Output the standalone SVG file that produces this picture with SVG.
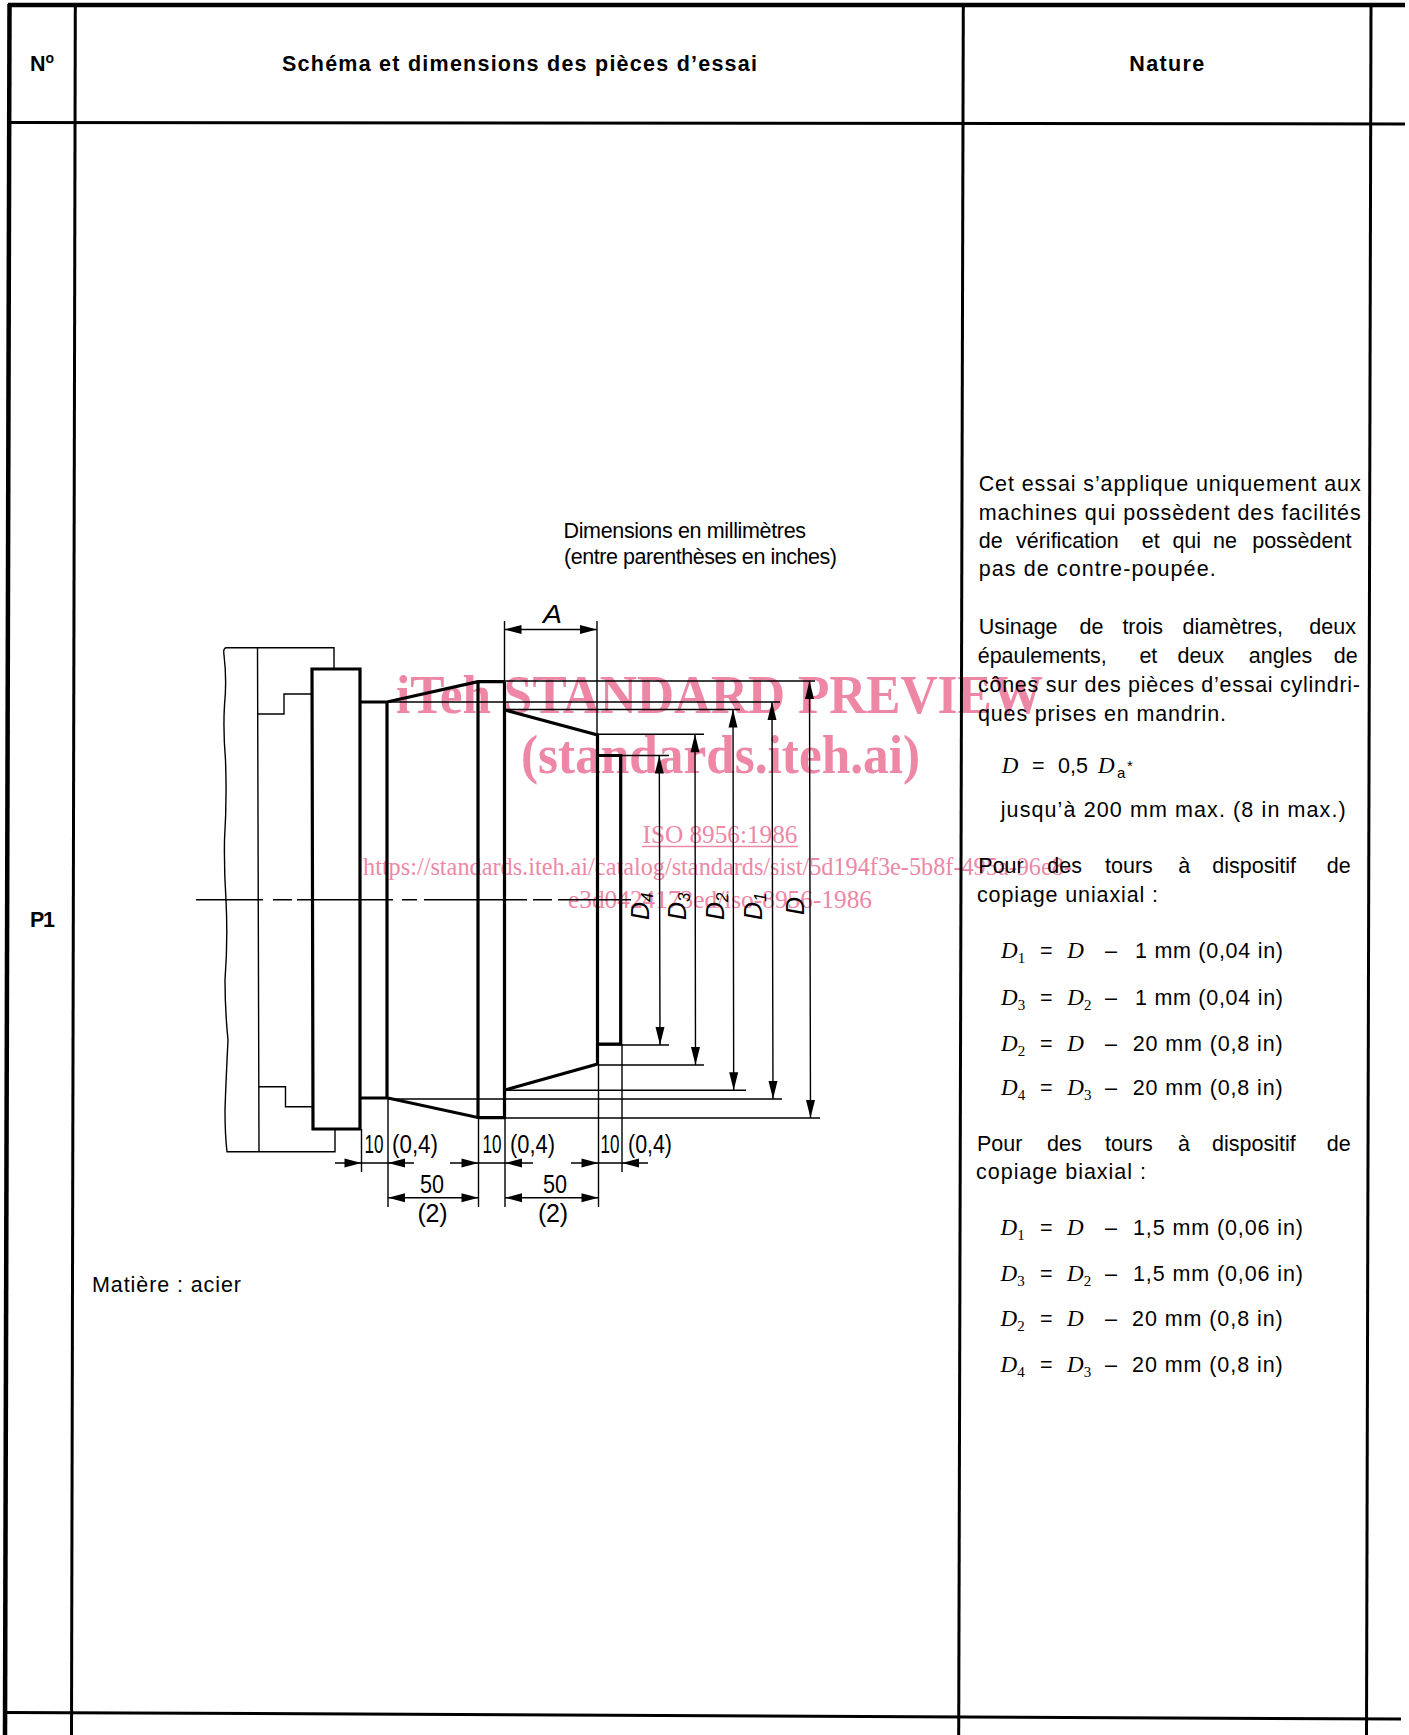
<svg xmlns="http://www.w3.org/2000/svg" width="1409" height="1735" viewBox="0 0 1409 1735">
<style>
.fr{stroke:#000;stroke-width:3;fill:none}
.fb{stroke:#000;stroke-width:4.5;fill:none}
.th{stroke:#000;stroke-width:1.4;fill:none}
.tk{stroke:#000;stroke-width:3.2;fill:none;stroke-linejoin:miter}
.ah{fill:#000}
text{font-family:"Liberation Sans",Arial,sans-serif;fill:#000}
.b{font-size:21.5px;font-weight:bold}
.t{font-size:21.5px}
.i{font-size:23px;font-style:italic;font-family:"Liberation Serif","Times New Roman",serif}
.s{font-size:15px}
.d{font-size:25px}
.r{font-size:25px;font-style:italic}
.rs{font-size:17px;font-style:italic}
.wm{font-family:"Liberation Serif","Times New Roman",serif;fill:#ee87a6}
.wb{font-weight:bold;font-size:54px}
.wn{font-size:25px}
</style>
<defs>
<path id="aU" class="ah" d="M0 0L-4.5 18L4.5 18Z"/>
<path id="aD" class="ah" d="M0 0L-4.5 -18L4.5 -18Z"/>
<path id="aL" class="ah" d="M0 0L17 -4.5L17 4.5Z"/>
<path id="aR" class="ah" d="M0 0L-17 -4.5L-17 4.5Z"/>
</defs>
<rect width="1409" height="1735" fill="#fff"/>
<g id="watermark" class="wm">
<text class="wm wb" x="396" y="713" textLength="647" lengthAdjust="spacingAndGlyphs">iTeh STANDARD PREVIEW</text>
<text class="wm wb" x="521" y="773" textLength="399" lengthAdjust="spacingAndGlyphs">(standards.iteh.ai)</text>
<text class="wm wn" x="642.5" y="843" textLength="155" lengthAdjust="spacingAndGlyphs">ISO 8956:1986</text>
<line x1="642" y1="846.5" x2="798" y2="846.5" stroke="#ee87a6" stroke-width="1.4"/>
<text class="wm wn" x="363" y="875" textLength="709" lengthAdjust="spacingAndGlyphs">https://standards.iteh.ai/catalog/standards/sist/5d194f3e-5b8f-495a-96e8-</text>
<text class="wm wn" x="568" y="908" textLength="304" lengthAdjust="spacingAndGlyphs">e3d0424173ed/iso-8956-1986</text>
</g>
<g id="frame">
<line class="fb" x1="8" y1="5" x2="1405" y2="5"/>
<line class="fb" x1="9.5" y1="4" x2="5" y2="1735"/>
<line class="fr" x1="75.3" y1="5" x2="71.5" y2="1735"/>
<line class="fr" x1="963.3" y1="5" x2="958.7" y2="1735"/>
<line class="fr" x1="1371" y1="5" x2="1366.5" y2="1735"/>
<line class="fr" x1="9" y1="122.6" x2="1405" y2="124"/>
<line class="fr" x1="5" y1="1712.4" x2="1401" y2="1719"/>
</g>
<g id="header">
<text class="b" x="30" y="71">N<tspan font-size="14" dy="-8">o</tspan></text>
<text class="b" x="282" y="71" textLength="475">Schéma et dimensions des pièces d’essai</text>
<text class="b" x="1129.3" y="71" textLength="75">Nature</text>
<text class="b" x="30" y="927" textLength="25">P1</text>
</g>
<g id="chuck">
<path class="th" d="M334 668V647.7H226Q223 648 224 655Q227 680 224.5 705Q223 730 225.5 760Q227 800 224.5 840Q224 870 226 900Q228 940 225 980Q225 1010 228 1040Q226 1080 225 1110Q225 1135 227 1151.7H335V1130"/>
<path class="th" d="M257.5 647.7L259 1151.7M258 714H284V694H311.5M259 1086.7H285.5V1106.7H312.5"/>
</g>
<g id="part">
<path class="tk" d="M312 669H360V1129H313Z"/>
<path class="tk" d="M360.5 702H387L478 681.7H504.5M387 702V1098M478 682V1118M504.5 682V1118M361 1098H388L479 1117.7H505"/>
<path class="tk" d="M505 710L597.5 735V1064L505 1090M598 755.5H620.7V1044H598"/>
</g>
<g id="connectors">
<path class="th" d="M504.5 621V682M597 621V735M504.5 629.5H597"/>
<use href="#aL" x="504.5" y="629.5"/><use href="#aR" x="597" y="629.5"/>
<path class="th" d="M505 681H815M387 702H780M505 709.5H740M597 734.3H704M621 755.5H669M598 1045H669M598 1065H704M505 1090.3H746M388 1099H782M505 1118H820"/>
<path class="th" d="M659.3 755.5L660 1045M695 734.3L695.5 1065M733 709.5L733.7 1090.3M772 702L773 1099M809.5 681L810.5 1118"/>
<use href="#aU" x="659.3" y="755.5"/><use href="#aU" x="695" y="734.3"/><use href="#aU" x="733" y="709.5"/><use href="#aU" x="772" y="702"/><use href="#aU" x="809.5" y="681"/>
<use href="#aD" x="660" y="1045"/><use href="#aD" x="695.5" y="1065"/><use href="#aD" x="733.7" y="1090.3"/><use href="#aD" x="773" y="1099"/><use href="#aD" x="810.5" y="1118"/>
<path class="th" d="M196 899.7H263M273 899.7H292M297 899.7H393M402 899.7H417M424 899.7H527M533 899.7H552M558 899.7H631"/>
<path class="th" d="M361.5 1129V1172M388 1099V1207M478.5 1118V1207M505 1118V1207M598.5 1064V1207M622 1044V1172"/>
<path class="th" d="M335 1163H414M450 1163H533M571 1163H648M388 1197.7H478.5M505 1197.7H598.5"/>
<use href="#aR" x="361.5" y="1163"/><use href="#aL" x="388" y="1163"/><use href="#aR" x="478.5" y="1163"/><use href="#aL" x="505" y="1163"/><use href="#aR" x="598.5" y="1163"/><use href="#aL" x="622" y="1163"/>
<use href="#aL" x="388" y="1197.7"/><use href="#aR" x="478.5" y="1197.7"/><use href="#aL" x="505" y="1197.7"/><use href="#aR" x="598.5" y="1197.7"/>
</g>
<g id="dim-labels">
<text class="r" x="543" y="623" textLength="19" lengthAdjust="spacingAndGlyphs">A</text>
<text class="d" x="364.5" y="1153" textLength="19" lengthAdjust="spacingAndGlyphs">10</text>
<text class="d" x="392" y="1153" textLength="46" lengthAdjust="spacingAndGlyphs">(0,4)</text>
<text class="d" x="482.5" y="1153" textLength="19" lengthAdjust="spacingAndGlyphs">10</text>
<text class="d" x="510" y="1153" textLength="45" lengthAdjust="spacingAndGlyphs">(0,4)</text>
<text class="d" x="600.5" y="1153" textLength="19" lengthAdjust="spacingAndGlyphs">10</text>
<text class="d" x="628" y="1153" textLength="44" lengthAdjust="spacingAndGlyphs">(0,4)</text>
<text class="d" x="420" y="1192.5" textLength="24" lengthAdjust="spacingAndGlyphs">50</text>
<text class="d" x="543" y="1192.5" textLength="24" lengthAdjust="spacingAndGlyphs">50</text>
<text class="d" x="417.5" y="1222" textLength="30">(2)</text>
<text class="d" x="538" y="1222" textLength="30">(2)</text>
<text class="r" transform="translate(649 920) rotate(-90)">D<tspan class="rs" dy="4">4</tspan></text>
<text class="r" transform="translate(686 920) rotate(-90)">D<tspan class="rs" dy="4">3</tspan></text>
<text class="r" transform="translate(724 920) rotate(-90)">D<tspan class="rs" dy="4">2</tspan></text>
<text class="r" transform="translate(762 920) rotate(-90)">D<tspan class="rs" dy="4">1</tspan></text>
<text class="r" transform="translate(804 915) rotate(-90)">D</text>
<text class="t" x="563.5" y="538" textLength="242.5">Dimensions en millimètres</text>
<text class="t" x="564" y="564" textLength="273">(entre parenthèses en inches)</text>
<text class="t" x="92" y="1292" textLength="149">Matière : acier</text>
</g>
<g id="nature-text">
<text class="t" x="978.7" y="491" textLength="382">Cet essai s’applique uniquement aux</text>
<text class="t" x="978.7" y="519.5" textLength="382">machines qui possèdent des facilités</text>
<text class="t" y="548"><tspan x="978.7">de</tspan><tspan x="1016">vérification</tspan><tspan x="1141.8">et</tspan><tspan x="1172.4">qui</tspan><tspan x="1213">ne</tspan><tspan x="1252.2">possèdent</tspan></text>
<text class="t" x="978.7" y="576" textLength="237">pas de contre-poupée.</text>
<text class="t" y="634"><tspan x="978.7">Usinage</tspan><tspan x="1079.6">de</tspan><tspan x="1122.4">trois</tspan><tspan x="1182.6">diamètres,</tspan><tspan x="1309.3">deux</tspan></text>
<text class="t" y="662.5"><tspan x="977.7">épaulements,</tspan><tspan x="1139.4">et</tspan><tspan x="1177.5">deux</tspan><tspan x="1248.8">angles</tspan><tspan x="1333.8">de</tspan></text>
<text class="t" x="978" y="692" textLength="382">cônes sur des pièces d’essai cylindri-</text>
<text class="t" x="978" y="721" textLength="248">ques prises en mandrin.</text>
<text class="i" x="1001.7" y="772.7">D</text><text class="t" x="1032" y="772.7">=</text><text class="t" x="1058" y="772.7">0,5</text><text class="i" x="1098" y="772.7">D</text><text class="s" x="1117" y="778">a</text><text class="s" x="1127" y="771">*</text>
<text class="t" x="1000.7" y="817" textLength="345">jusqu’à 200 mm max. (8 in max.)</text>
<text class="t" y="872.7"><tspan x="978.3">Pour</tspan><tspan x="1047.3">des</tspan><tspan x="1105">tours</tspan><tspan x="1178.3">à</tspan><tspan x="1212.3">dispositif</tspan><tspan x="1326.7">de</tspan></text>
<text class="t" x="977" y="901.7" textLength="181">copiage uniaxial :</text>
<g id="eq-uni">
<text class="i" x="1001" y="958.3">D<tspan class="s" font-style="normal" dy="5">1</tspan></text><text class="t" x="1040" y="958.3">=</text><text class="i" x="1067.3" y="958.3">D</text><text class="t" x="1105" y="958.3">–</text><text class="t" x="1135" y="958.3" textLength="148">1 mm (0,04 in)</text>
<text class="i" x="1001" y="1005">D<tspan class="s" font-style="normal" dy="5">3</tspan></text><text class="t" x="1040" y="1005">=</text><text class="i" x="1067.3" y="1005">D<tspan class="s" font-style="normal" dy="5">2</tspan></text><text class="t" x="1105" y="1005">–</text><text class="t" x="1135" y="1005" textLength="148">1 mm (0,04 in)</text>
<text class="i" x="1001" y="1050.7">D<tspan class="s" font-style="normal" dy="5">2</tspan></text><text class="t" x="1040" y="1050.7">=</text><text class="i" x="1067.3" y="1050.7">D</text><text class="t" x="1105" y="1050.7">–</text><text class="t" x="1132.7" y="1050.7" textLength="150">20 mm (0,8 in)</text>
<text class="i" x="1001" y="1095">D<tspan class="s" font-style="normal" dy="5">4</tspan></text><text class="t" x="1040" y="1095">=</text><text class="i" x="1067.3" y="1095">D<tspan class="s" font-style="normal" dy="5">3</tspan></text><text class="t" x="1105" y="1095">–</text><text class="t" x="1132.7" y="1095" textLength="150">20 mm (0,8 in)</text>
</g>
<text class="t" y="1151"><tspan x="977">Pour</tspan><tspan x="1047">des</tspan><tspan x="1105">tours</tspan><tspan x="1178">à</tspan><tspan x="1212">dispositif</tspan><tspan x="1326.7">de</tspan></text>
<text class="t" x="976" y="1179" textLength="170">copiage biaxial :</text>
<g id="eq-bi">
<text class="i" x="1000.5" y="1235">D<tspan class="s" font-style="normal" dy="5">1</tspan></text><text class="t" x="1040" y="1235">=</text><text class="i" x="1067" y="1235">D</text><text class="t" x="1105" y="1235">–</text><text class="t" x="1133" y="1235" textLength="170">1,5 mm (0,06 in)</text>
<text class="i" x="1000.5" y="1280.5">D<tspan class="s" font-style="normal" dy="5">3</tspan></text><text class="t" x="1040" y="1280.5">=</text><text class="i" x="1067" y="1280.5">D<tspan class="s" font-style="normal" dy="5">2</tspan></text><text class="t" x="1105" y="1280.5">–</text><text class="t" x="1133" y="1280.5" textLength="170">1,5 mm (0,06 in)</text>
<text class="i" x="1000.5" y="1326">D<tspan class="s" font-style="normal" dy="5">2</tspan></text><text class="t" x="1040" y="1326">=</text><text class="i" x="1067" y="1326">D</text><text class="t" x="1105" y="1326">–</text><text class="t" x="1132" y="1326" textLength="150.7">20 mm (0,8 in)</text>
<text class="i" x="1000.5" y="1372">D<tspan class="s" font-style="normal" dy="5">4</tspan></text><text class="t" x="1040" y="1372">=</text><text class="i" x="1067" y="1372">D<tspan class="s" font-style="normal" dy="5">3</tspan></text><text class="t" x="1105" y="1372">–</text><text class="t" x="1132" y="1372" textLength="150.7">20 mm (0,8 in)</text>
</g>
</g>
</svg>
